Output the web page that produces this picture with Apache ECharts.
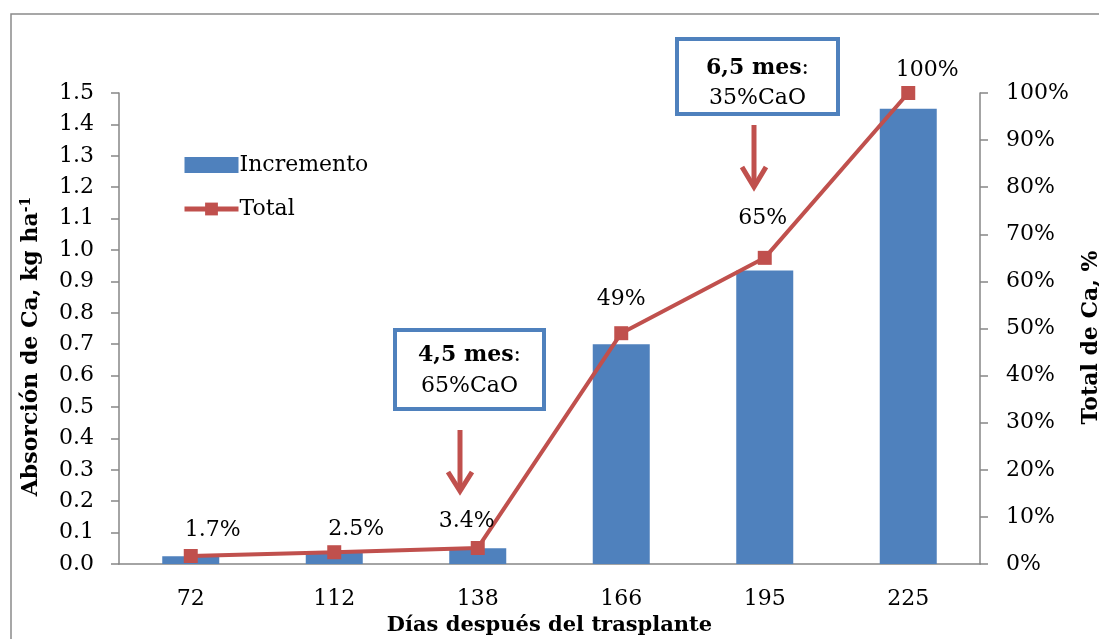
<!DOCTYPE html>
<html>
<head>
<meta charset="utf-8">
<script src="https://cdn.jsdelivr.net/npm/echarts@6/dist/echarts.min.js"></script>
<style>
  html, body { margin: 0; padding: 0; background: #fff; }
  #chart { width: 1099px; height: 639px; }
</style>
</head>
<body>
<div id="chart"></div>
<script>
// Days after transplant
const categories = ['72', '112', '138', '166', '195', '225'];
// Calcium uptake increment per interval, kg ha-1
const incremento = [0.025, 0.035, 0.05, 0.70, 0.935, 1.45];
// Cumulative share of total calcium, %
const total = [1.7, 2.5, 3.4, 49, 65, 100];
// Left axis ticks
const leftMin = 0, leftMax = 1.5, leftStep = 0.1;
// Right axis ticks (%)
const rightMin = 0, rightMax = 100, rightStep = 10;

const FONT = 'DejaVu Serif';
const BLUE = '#4F81BD';
const RED = '#C0504D';
const AXIS = '#868686';

// label nudges for the cumulative-percentage labels
const labelOffsets = [[22, -3], [22, 0], [-11, -4], [0, -11], [-2, -17], [19, 0]];

const chart = echarts.init(document.getElementById('chart'), null, { renderer: 'canvas' });

const fmtPct = v => (Number.isInteger(v) ? String(v) : v.toFixed(1)) + '%';

const option = {
  animation: false,
  backgroundColor: '#fff',
  textStyle: { fontFamily: FONT },
  grid: { left: 119, right: 119, top: 93, bottom: 75, containLabel: false, outerBoundsMode: 'none' },
  legend: {
    orient: 'vertical',
    left: 177,
    top: 149,
    itemWidth: 54,
    itemHeight: 16,
    itemGap: 22,
    textStyle: { fontFamily: FONT, fontSize: 22, color: '#000', padding: [0, 0, 0, -4] },
    data: [
      { name: 'Incremento', icon: 'rect' },
      { name: 'Total', lineStyle: { width: 5 } }
    ]
  },
  xAxis: {
    type: 'category',
    data: categories,
    boundaryGap: true,
    axisLine: { lineStyle: { color: AXIS, width: 1.5 } },
    axisTick: { show: false },
    axisLabel: { fontFamily: FONT, fontSize: 22, color: '#000', margin: 24 },
    name: 'Días después del trasplante',
    nameLocation: 'middle',
    nameGap: 48,
    nameTextStyle: { fontFamily: FONT, fontSize: 21, fontWeight: 'bold', color: '#000' }
  },
  yAxis: [
    {
      type: 'value',
      min: leftMin,
      max: leftMax,
      interval: leftStep,
      splitLine: { show: false },
      axisLine: { show: true, lineStyle: { color: AXIS, width: 1.5 } },
      axisTick: { show: true, length: 8, lineStyle: { color: AXIS, width: 1.5 } },
      axisLabel: { fontFamily: FONT, fontSize: 22, color: '#000', margin: 25,
        formatter: v => v.toFixed(1) },
      name: '{t|Absorción de Ca, kg ha}{s|-1}',
      nameLocation: 'middle',
      nameRotate: 90,
      nameGap: 76,
      nameTextStyle: {
        padding: [0, 36, 0, 0],
        rich: {
          t: { fontFamily: FONT, fontSize: 22, fontWeight: 'bold', color: '#000' },
          s: { fontFamily: FONT, fontSize: 14, fontWeight: 'bold', color: '#000', verticalAlign: 'top', padding: [0, 0, 10, 0] }
        }
      }
    },
    {
      type: 'value',
      min: rightMin,
      max: rightMax,
      interval: rightStep,
      position: 'right',
      splitLine: { show: false },
      axisLine: { show: true, lineStyle: { color: AXIS, width: 1.5 } },
      axisTick: { show: true, length: 8, lineStyle: { color: AXIS, width: 1.5 } },
      axisLabel: { fontFamily: FONT, fontSize: 22, color: '#000', margin: 26,
        formatter: v => v + '%' },
      name: 'Total de Ca, %',
      nameLocation: 'middle',
      nameRotate: 90,
      nameGap: 100,
      nameTextStyle: { fontFamily: FONT, fontSize: 22, fontWeight: 'bold', color: '#000', padding: [0, 18, 0, 0] }
    }
  ],
  series: [
    {
      name: 'Incremento',
      type: 'bar',
      yAxisIndex: 0,
      data: incremento,
      barWidth: 57,
      itemStyle: { color: BLUE },
      z: 2
    },
    {
      name: 'Total',
      type: 'line',
      yAxisIndex: 1,
      data: total.map((v, i) => ({
        value: v,
        label: { offset: labelOffsets[i] }
      })),
      symbol: 'rect',
      symbolSize: 14,
      lineStyle: { color: RED, width: 4 },
      itemStyle: { color: RED },
      label: {
        show: true,
        position: 'top',
        distance: 5,
        fontFamily: FONT,
        fontSize: 22,
        color: '#000',
        formatter: p => fmtPct(p.value)
      },
      z: 3
    }
  ],
  graphic: [
    // outer frame
    {
      type: 'rect',
      silent: true,
      z: -10,
      shape: { x: 11, y: 14, width: 1200, height: 700 },
      style: { fill: 'none', stroke: '#8a8a8a', lineWidth: 1.5 }
    },
    // note box: 4,5 months
    {
      type: 'rect',
      shape: { x: 395, y: 330, width: 149, height: 79 },
      style: { fill: '#fff', stroke: BLUE, lineWidth: 4 }
    },
    {
      type: 'text',
      x: 469.5, y: 371,
      style: {
        text: '{b|4,5 mes}{n|:}\n{n|65%CaO}',
        align: 'center', verticalAlign: 'middle',
        rich: {
          b: { fontFamily: FONT, fontSize: 22, fontWeight: 'bold', fill: '#000', lineHeight: 31 },
          n: { fontFamily: FONT, fontSize: 22, fill: '#000', lineHeight: 31 }
        }
      }
    },
    // note box: 6,5 months
    {
      type: 'rect',
      shape: { x: 677, y: 39, width: 161, height: 75 },
      style: { fill: '#fff', stroke: BLUE, lineWidth: 4 }
    },
    {
      type: 'text',
      x: 757.5, y: 83,
      style: {
        text: '{b|6,5 mes}{n|:}\n{n|35%CaO}',
        align: 'center', verticalAlign: 'middle',
        rich: {
          b: { fontFamily: FONT, fontSize: 22, fontWeight: 'bold', fill: '#000', lineHeight: 30 },
          n: { fontFamily: FONT, fontSize: 22, fill: '#000', lineHeight: 30 }
        }
      }
    },
    // arrows
    {
      type: 'polyline',
      shape: { points: [[460, 430], [460, 490]] },
      style: { stroke: RED, lineWidth: 5, fill: 'none' }
    },
    {
      type: 'polyline',
      shape: { points: [[448, 472], [460, 491], [472, 472]] },
      style: { stroke: RED, lineWidth: 5, fill: 'none', lineJoin: 'miter' }
    },
    {
      type: 'polyline',
      shape: { points: [[754, 125], [754, 186]] },
      style: { stroke: RED, lineWidth: 5, fill: 'none' }
    },
    {
      type: 'polyline',
      shape: { points: [[742, 167], [754, 187], [766, 167]] },
      style: { stroke: RED, lineWidth: 5, fill: 'none', lineJoin: 'miter' }
    }
  ]
};

chart.setOption(option);
</script>
</body>
</html>
